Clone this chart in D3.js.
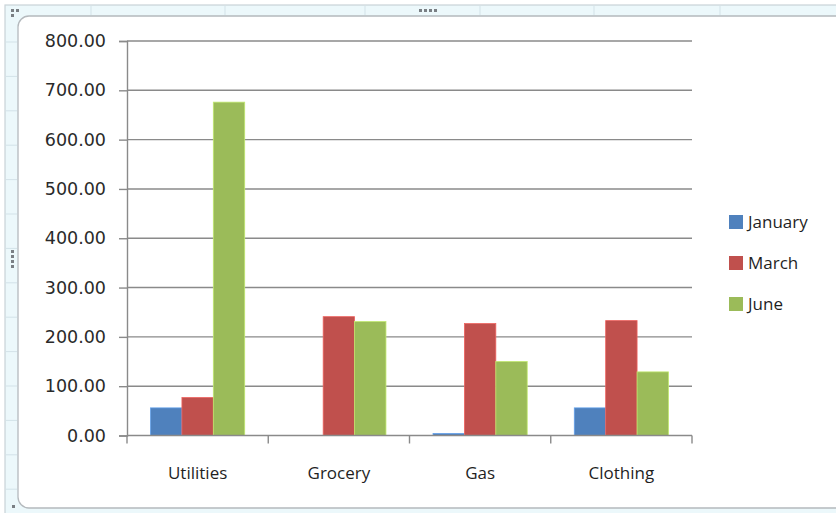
<!DOCTYPE html>
<html>
<head>
<meta charset="utf-8">
<script src="https://cdn.jsdelivr.net/npm/d3@7/dist/d3.min.js"></script>
<style>
  html, body { margin: 0; padding: 0; background: #ffffff; }
  svg { display: block; }
</style>
</head>
<body>
<svg id="chart" width="836" height="513"></svg>
<script>
// Monthly spending by category
const categories = ["Utilities", "Grocery", "Gas", "Clothing"];
const seriesNames = ["January", "March", "June"];
const january = [56, 0, 4, 56];
const march = [77, 241, 227, 233];
const june = [676, 231, 150, 129];
const yTicks = [0, 100, 200, 300, 400, 500, 600, 700, 800];
const seriesColors = ["#4f81bd", "#c0504d", "#9bbb59"];

const seriesValues = [january, march, june];
const rows = categories.map((c, i) => ({
  category: c,
  values: seriesNames.map((s, k) => ({ series: s, value: seriesValues[k][i] }))
}));

const W = 836, H = 513;
const svg = d3.select("#chart");

// Worksheet frame around the embedded chart
svg.append("rect").attr("x", 0).attr("y", 0).attr("width", W).attr("height", H).attr("fill", "#ffffff");
svg.append("rect").attr("x", 5).attr("y", 5).attr("width", W).attr("height", H)
  .attr("fill", "#ecf8fb").attr("stroke", "#c9d3d8").attr("stroke-width", 1.2);
const frame = svg.append("g").attr("stroke", "#d3e2e8").attr("stroke-width", 1);
[91, 225, 365, 480, 594, 720].forEach(x =>
  frame.append("line").attr("x1", x).attr("x2", x).attr("y1", 6).attr("y2", 15));
d3.range(42, 513, 34.4).forEach(y =>
  frame.append("line").attr("x1", 6).attr("x2", 17).attr("y1", y).attr("y2", y));

// Chart area
svg.append("rect").attr("x", 18).attr("y", 16).attr("width", 830).attr("height", 492)
  .attr("rx", 11).attr("ry", 11)
  .attr("fill", "#ffffff").attr("stroke", "#b4b9bd").attr("stroke-width", 1.3);

// Resize handles
const handles = svg.append("g").attr("fill", "#7a7f84");
[419, 424, 429, 434].forEach(x => handles.append("rect").attr("x", x).attr("y", 9).attr("width", 3).attr("height", 3));
[250, 255, 260, 265].forEach(y => handles.append("rect").attr("x", 11).attr("y", y).attr("width", 3).attr("height", 3));
[[11, 9], [16, 9], [11, 14]].forEach(([x, y]) => handles.append("rect").attr("x", x).attr("y", y).attr("width", 3).attr("height", 3));
[[12, 505]].forEach(([x, y]) => handles.append("rect").attr("x", x).attr("y", y).attr("width", 3).attr("height", 3));

// Scales
const plot = { left: 127, right: 692, top: 41, bottom: 435.5 };
const y = d3.scaleLinear().domain([0, 800]).range([plot.bottom, plot.top]);
const x0 = d3.scaleBand().domain(categories).range([plot.left, plot.right]).paddingInner(0).paddingOuter(0);
const x1 = d3.scaleBand().domain(seriesNames).range([0, x0.bandwidth()]).paddingInner(0).paddingOuter(0.75);
const color = d3.scaleOrdinal().domain(seriesNames).range(seriesColors);

// Gridlines
svg.append("g")
  .selectAll("line").data(yTicks.filter(t => t > 0)).join("line")
  .attr("x1", plot.left).attr("x2", plot.right)
  .attr("y1", d => y(d)).attr("y2", d => y(d))
  .attr("stroke", "#8a8a8a").attr("stroke-width", 1.4);

// Bars
svg.append("g")
  .selectAll("g").data(rows).join("g")
  .attr("transform", d => `translate(${x0(d.category)},0)`)
  .selectAll("rect").data(d => d.values).join("rect")
  .attr("x", d => x1(d.series))
  .attr("width", x1.bandwidth())
  .attr("y", d => y(d.value))
  .attr("height", d => y(0) - y(d.value))
  .attr("fill", d => color(d.series))
  .attr("stroke", d => d3.color(color(d.series)).brighter(0.6))
  .attr("stroke-width", 0.8);

// Y axis
const yAxis = svg.append("g")
  .attr("transform", `translate(${plot.left},0)`)
  .call(d3.axisLeft(y).tickValues(yTicks).tickFormat(d3.format(".2f")).tickSize(8).tickPadding(13));
yAxis.select(".domain").attr("stroke", "#8a8a8a").attr("stroke-width", 1.4);
yAxis.selectAll(".tick line").attr("stroke", "#8a8a8a").attr("stroke-width", 1.4);
yAxis.selectAll(".tick text")
  .attr("font-family", "'DejaVu Sans', Verdana, sans-serif")
  .attr("font-size", 17.5).attr("fill", "#2a2a2a");

// X axis
const xAxis = svg.append("g")
  .attr("transform", `translate(0,${plot.bottom})`)
  .call(d3.axisBottom(x0).tickSize(0).tickPadding(31));
xAxis.select(".domain").remove();
xAxis.selectAll(".tick text")
  .attr("font-family", "'Open Sans', sans-serif")
  .attr("font-size", 17).attr("fill", "#1f1f1f");
xAxis.append("line").attr("x1", plot.left).attr("x2", plot.right).attr("y1", 0).attr("y2", 0)
  .attr("stroke", "#8a8a8a").attr("stroke-width", 1.4);
xAxis.selectAll(".sep").data(d3.range(categories.length + 1)).join("line")
  .attr("class", "sep")
  .attr("x1", i => plot.left + i * x0.step()).attr("x2", i => plot.left + i * x0.step())
  .attr("y1", 0).attr("y2", 8)
  .attr("stroke", "#8a8a8a").attr("stroke-width", 1.4);

// Legend
const legend = svg.append("g").attr("transform", "translate(729,222)");
const item = legend.selectAll("g").data(seriesNames).join("g")
  .attr("transform", (d, i) => `translate(0,${i * 41})`);
item.append("rect").attr("x", 0).attr("y", -7).attr("width", 14).attr("height", 14)
  .attr("fill", d => color(d));
item.append("text").attr("x", 19).attr("y", 0).attr("dy", "0.36em")
  .attr("font-family", "'Open Sans', sans-serif").attr("font-size", 17).attr("fill", "#1f1f1f")
  .text(d => d);
</script>
</body>
</html>
